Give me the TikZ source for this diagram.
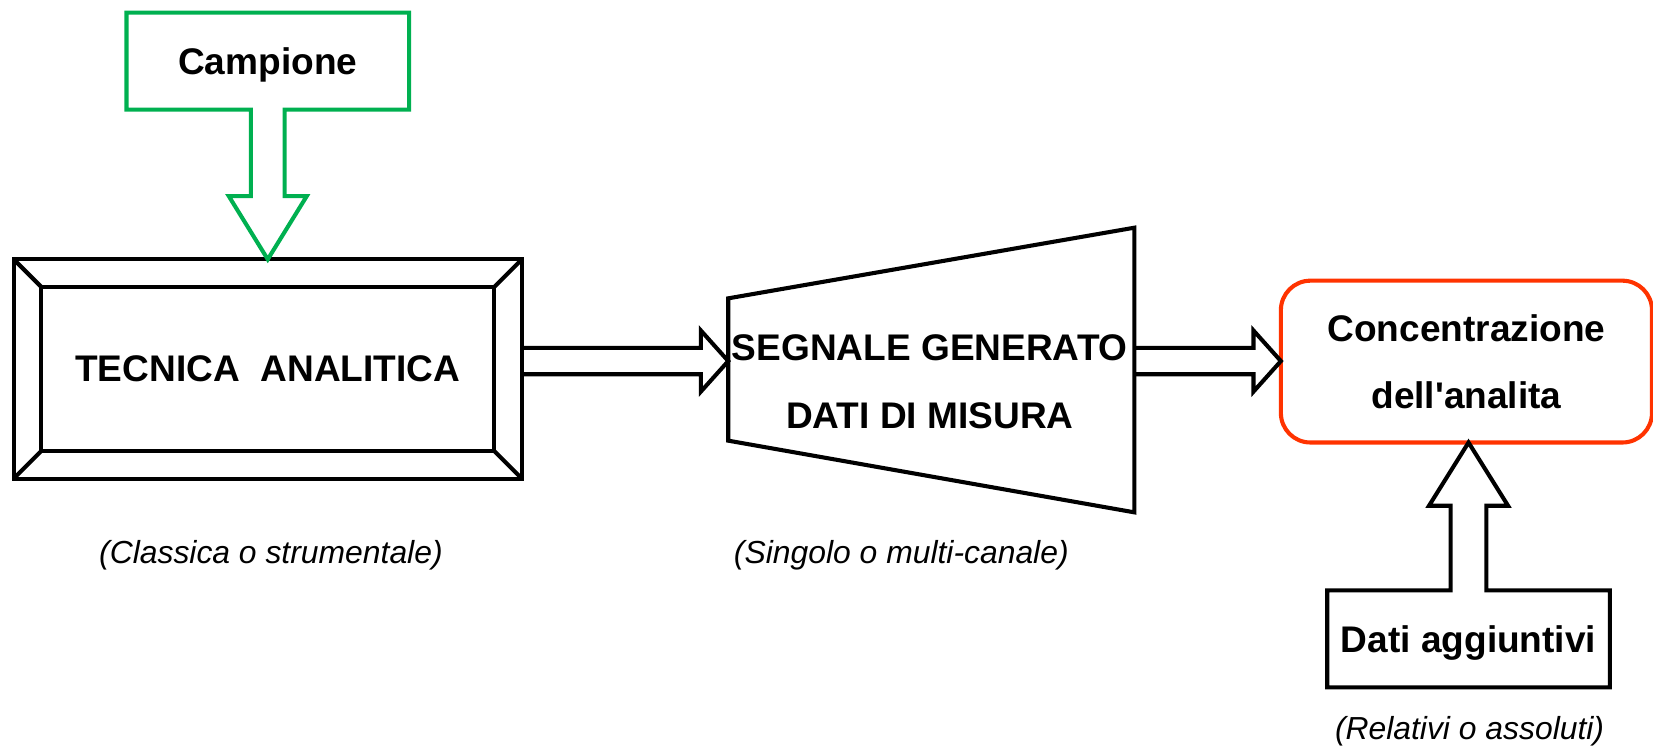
\documentclass[tikz,border=0pt]{standalone}
\usepackage{fontspec}
\setmainfont{Liberation Sans}
\usetikzlibrary{calc}

\definecolor{campgreen}{RGB}{0,176,80}
\definecolor{concred}{RGB}{255,51,0}

\tikzset{
  stroke/.style={line width=1.1pt},
  bigtxt/.style={font=\fontsize{10}{12}\selectfont\bfseries, inner sep=0pt, outer sep=0pt, text depth=0pt},
  twolines/.style={align=center, font=\fontsize{10}{18.2}\selectfont\bfseries},
  notetxt/.style={font=\fontsize{8.6}{10}\selectfont\itshape},
}

% horizontal block arrow, open at its tail
\newcommand{\flowarrow}[2]{%
  \draw[stroke] ($(#1)+(0,0.125)$) -- ($(#2)+(-0.26,0.125)$) -- ($(#2)+(-0.26,0.29)$) -- (#2)
    -- ($(#2)+(-0.26,-0.29)$) -- ($(#2)+(-0.26,-0.125)$) -- ($(#1)+(0,-0.125)$);}

\begin{document}
\begin{tikzpicture}
    \useasboundingbox (0,0) rectangle (15.68,7.10);
    \coordinate (row) at (0,3.675);

    % sample box with its arrow down into the technique
    \node[bigtxt, minimum width=2.68cm, minimum height=0.92cm] (campione) at (2.54,6.52) {Campione};
    \node[bigtxt, draw, stroke, minimum width=4.82cm, minimum height=2.08cm] (tecnica) at (2.54,3.60) {};
    \node[bigtxt, draw, stroke, minimum width=4.30cm, minimum height=1.56cm] (tecin) at (tecnica) {TECNICA\ \ ANALITICA};
    \foreach \c in {north west,north east,south west,south east}
        \draw[stroke] (tecnica.\c) -- (tecin.\c);
    \draw[stroke, campgreen] (campione.south west) -- (campione.north west) -- (campione.north east) -- (campione.south east)
        -- ($(campione.south)+(0.16,0)$) -- ($(tecnica.north)+(0.16,0.6)$) -- ($(tecnica.north)+(0.37,0.6)$) -- (tecnica.north)
        -- ($(tecnica.north)+(-0.37,0.6)$) -- ($(tecnica.north)+(-0.16,0.6)$) -- ($(campione.south)+(-0.16,0)$) -- cycle;

    % signal block (trapezium)
    \coordinate (seg) at (8.83,3.59);
    \coordinate (sgTL) at ($(seg)+(-1.922,0.68)$);
    \coordinate (sgBL) at ($(seg)+(-1.922,-0.67)$);
    \coordinate (sgTR) at ($(seg)+(1.93,1.35)$);
    \coordinate (sgBR) at ($(seg)+(1.93,-1.35)$);
    \draw[stroke] (sgTL) -- (sgTR) -- (sgBR) -- (sgBL) -- cycle;
    \node[twolines] (segnale) at (8.82,3.48) {SEGNALE GENERATO\\DATI DI MISURA};

    % result and extra data
    \node[twolines, draw=concred, stroke, rounded corners=0.28cm, minimum width=3.52cm, minimum height=1.535cm, outer sep=0pt] (conc) at (13.91,3.67) {Concentrazione\\dell\textquotesingle analita};
    \node[bigtxt, minimum width=2.68cm, minimum height=0.92cm] (dati) at (13.93,1.04) {Dati aggiuntivi};
    \draw[stroke] (dati.north west) -- (dati.south west) -- (dati.south east) -- (dati.north east)
        -- ($(dati.north)+(0.17,0)$) -- ($(dati |- conc.south)+(0.17,-0.6)$) -- ($(dati |- conc.south)+(0.375,-0.6)$) -- (dati |- conc.south)
        -- ($(dati |- conc.south)+(-0.375,-0.6)$) -- ($(dati |- conc.south)+(-0.17,-0.6)$) -- ($(dati.north)+(-0.17,0)$) -- cycle;

    \flowarrow{tecnica.east |- row}{sgTL |- row}
    \flowarrow{sgTR |- row}{conc.west |- row}

    \node[notetxt] (classica) at (2.57,1.83) {(Classica o strumentale)};
    \node[notetxt] (singolo) at (8.55,1.83) {(Singolo o multi-canale)};
    \node[notetxt] (relativi) at (13.94,0.16) {(Relativi o assoluti)};
\end{tikzpicture}
\end{document}
